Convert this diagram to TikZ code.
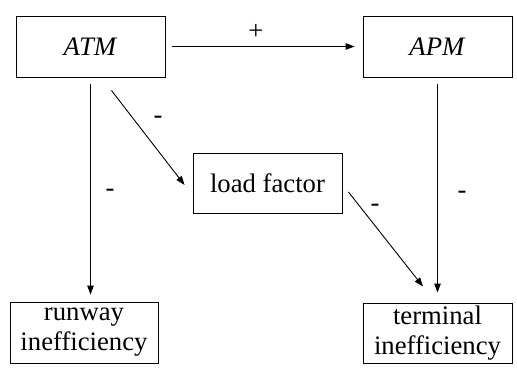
\documentclass[tikz,border=0pt]{standalone}
\usepackage{fontspec}
\setmainfont{Liberation Serif}
\usetikzlibrary{arrows.meta,calc}
\begin{document}
\begin{tikzpicture}[x=1pt,y=-1pt,
  box/.style={draw,line width=0.9pt,inner sep=0pt,align=center,font=\fontsize{26.7}{30}\selectfont},
  conn/.style={line width=0.9pt,-{Triangle[length=9pt,width=6.5pt]}},
  lbl/.style={font=\fontsize{26.7}{30}\selectfont,inner sep=0pt}]
\useasboundingbox (0,0) rectangle (517,372);
\node[box,minimum width=149pt,minimum height=61pt] (ATM) at (90.5,46.5) {\textit{ATM}};
\node[box,minimum width=149pt,minimum height=61pt] (APM) at (437.5,46.5) {\textit{APM}};
\node[box,minimum width=149pt,minimum height=60pt] (LF) at (267.5,183) {load factor};
\node[box,minimum width=148pt,minimum height=61pt] (RW) at (84,332.5) {runway\\inefficiency};
\node[box,minimum width=149pt,minimum height=60pt] (TE) at (437.5,333) {terminal\\inefficiency};
\coordinate (a1) at ($(ATM.south east)+(-54,13)$);
\coordinate (a2) at ($(LF.west)+(-8,2)$);
\coordinate (b1) at ($(LF.east)+(6,9)$);
\coordinate (b2) at ($(TE.north)+(-14.5,-16)$);
\draw[conn,shorten <=7pt,shorten >=8pt] (ATM.east) -- (APM.west);
\draw[conn,shorten <=7pt,shorten >=7pt] (ATM.south) -- (ATM.south |- RW.north);
\draw[conn] (a1) -- (a2);
\draw[conn] (b1) -- (b2);
\draw[conn,shorten <=7pt,shorten >=10pt] (APM.south) -- (TE.north);
\node[lbl] (lp) at (256,32) {+};
\node[lbl] (l1) at (110,193) {-};
\node[lbl] (l2) at (158,120) {-};
\node[lbl] (l3) at (375,208) {-};
\node[lbl] (l4) at (462,195) {-};
\end{tikzpicture}
\end{document}
